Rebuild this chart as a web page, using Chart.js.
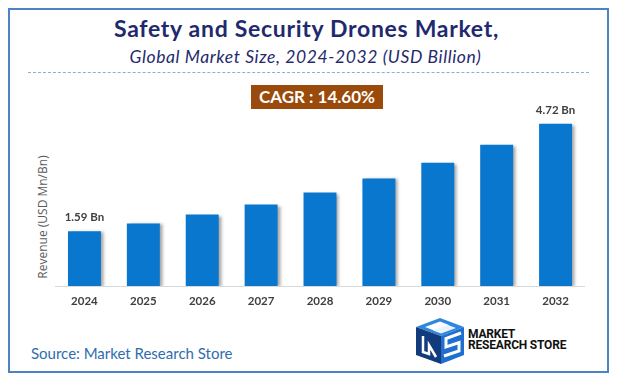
<!DOCTYPE html>
<html>
<head>
<meta charset="utf-8">
<script src="https://cdn.jsdelivr.net/npm/chart.js@4.4.1/dist/chart.umd.min.js"></script>
<style>
  html, body { margin:0; padding:0; background:#fff; }
  body { width:617px; height:382px; position:relative; overflow:hidden; font-family: Lato, "Open Sans", sans-serif; }
  #frame { position:absolute; left:8px; top:8px; width:597px; height:361px; border:2px solid #4A84C2; }
  #title { position:absolute; left:0; width:613px; top:14px; text-align:center; font-weight:bold; font-size:23px; letter-spacing:0.7px; color:#1F2A6E; line-height:28px; white-space:nowrap; }
  #subtitle { position:absolute; left:0; width:611px; top:46px; text-align:center; font-style:italic; font-size:17.5px; letter-spacing:0.6px; color:#1F2A6E; line-height:22px; white-space:nowrap; }
  #dash { position:absolute; left:28px; top:72px; width:561px; height:0; border-top:1.5px dashed #8FAADC; }
  #cagr { position:absolute; left:251px; top:85px; width:132px; height:24px; background:#9A4A0B; color:#fff; font-weight:bold; font-size:17px; line-height:24px; text-align:center; white-space:nowrap; }
  #ytitle { position:absolute; left:42px; top:217px; transform:translate(-50%,-50%) rotate(-90deg); font-size:12px; color:#595959; white-space:nowrap; font-family:"Open Sans", sans-serif; }
  #chartbox { position:absolute; left:55px; top:97px; width:530px; height:219px; }
  #source { position:absolute; left:31px; top:344px; font-size:15px; color:#2F6DAE; line-height:18px; white-space:nowrap; }
  #logo { position:absolute; left:410px; top:316px; width:170px; height:50px; }
  #logotext { position:absolute; left:468px; top:329px; font-family: Roboto, sans-serif; font-weight:bold; font-size:12px; line-height:11px; color:#111; letter-spacing:-0.2px; }
</style>
</head>
<body>
<div id="frame"></div>
<div id="title">Safety and Security Drones Market,</div>
<div id="subtitle">Global Market Size, 2024-2032 (USD Billion)</div>
<div id="dash"></div>
<div id="cagr">CAGR : 14.60%</div>
<div id="ytitle">Revenue (USD Mn/Bn)</div>
<div id="chartbox"><canvas id="c"></canvas></div>
<div id="source">Source: Market Research Store</div>
<svg id="logo" width="170" height="50" viewBox="410 316 170 50">
  <polygon points="416,327 440,318 464,327 441,336" fill="#2F86DC"/>
  <polygon points="425,327 440,321.5 449,325 434,330.5" fill="#ffffff"/>
  <polygon points="433,330.5 448,325 456,328 441,333.5" fill="#ffffff" opacity="0.9"/>
  <polygon points="416,327 441,336 441,364 416,355" fill="#123B7E"/>
  <polygon points="441,336 464,327 464,355 441,364" fill="#1F6FD0"/>
  <polyline points="461,333 446,338.5 446,347 459,342.5 459,351 444,356" fill="none" stroke="#ffffff" stroke-width="3"/>
  <polyline points="423,336 423,352 429,354 429,345 436,357" fill="none" stroke="#ffffff" stroke-width="2.5"/>
</svg>
<div id="logotext">MARKET<br>RESEARCH STORE</div>
<script>
const categories = ["2024","2025","2026","2027","2028","2029","2030","2031","2032"];
const revenue = [1.59, 1.82, 2.08, 2.37, 2.72, 3.13, 3.59, 4.11, 4.72];
const valueLabels = ["1.59 Bn", "", "", "", "", "", "", "", "4.72 Bn"];

const shadowPlugin = {
  id: 'shadow',
  beforeDatasetsDraw(chart) {
    const ctx = chart.ctx;
    ctx.save();
    ctx.shadowColor = 'rgba(0,0,0,0.35)';
    ctx.shadowOffsetX = 3;
    ctx.shadowOffsetY = 1;
    ctx.shadowBlur = 3;
  },
  afterDatasetsDraw(chart) {
    chart.ctx.restore();
    const ctx = chart.ctx;
    const meta = chart.getDatasetMeta(0);
    ctx.save();
    ctx.font = 'bold 11.5px Lato, "Open Sans", sans-serif';
    ctx.fillStyle = '#404040';
    ctx.textAlign = 'center';
    ctx.textBaseline = 'alphabetic';
    meta.data.forEach((bar, i) => {
      if (valueLabels[i]) ctx.fillText(valueLabels[i], bar.x, bar.y - 10);
    });
    ctx.restore();
  }
};

new Chart(document.getElementById('c'), {
  type: 'bar',
  data: {
    labels: categories,
    datasets: [{
      data: revenue,
      backgroundColor: '#0A77CE',
      borderWidth: 0,
      categoryPercentage: 0.8,
      barPercentage: 0.7
    }]
  },
  options: {
    responsive: true,
    maintainAspectRatio: false,
    animation: false,
    devicePixelRatio: 1,
    layout: { padding: 0 },
    plugins: { legend: { display: false }, tooltip: { enabled: false } },
    scales: {
      x: {
        grid: { display: false, drawTicks: false },
        border: { display: true, color: '#D9D9D9', width: 1 },
        ticks: { color: '#404040', font: { family: 'Lato, "Open Sans", sans-serif', size: 11.5, weight: 'bold' }, padding: 8 },
        afterFit(scale) { scale.height = 30; }
      },
      y: {
        display: false,
        min: 0,
        max: 5.5
      }
    }
  },
  plugins: [shadowPlugin]
});
</script>
</body>
</html>
